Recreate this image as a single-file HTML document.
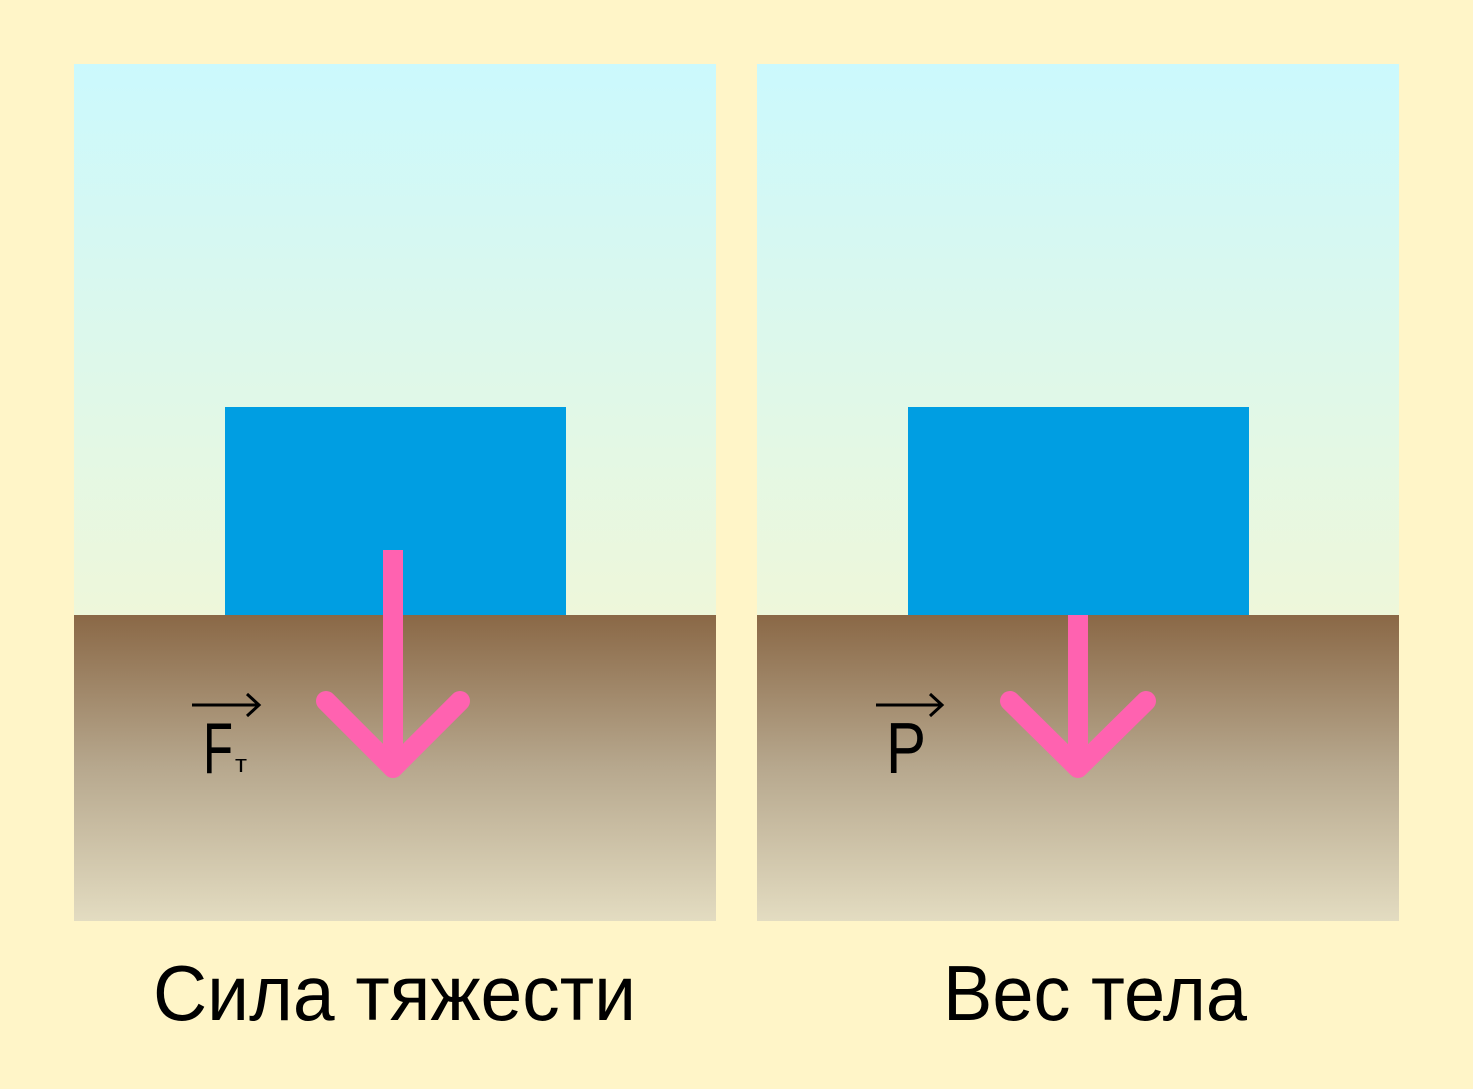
<!DOCTYPE html>
<html><head><meta charset="utf-8"><style>
html,body{margin:0;padding:0;background:#FFF5C8;}
svg{display:block}
</style></head><body>
<svg width="1473" height="1089" viewBox="0 0 1473 1089" xmlns="http://www.w3.org/2000/svg">
<defs>
<linearGradient id="sky" x1="0" y1="0" x2="0" y2="1">
<stop offset="0" stop-color="#CBF9FD"/><stop offset="1" stop-color="#EEF7DA"/>
</linearGradient>
<linearGradient id="ground" x1="0" y1="0" x2="0" y2="1">
<stop offset="0" stop-color="#8A6846"/><stop offset="0.5" stop-color="#B7A88E"/><stop offset="1" stop-color="#E3DCC1"/>
</linearGradient>
</defs>
<rect width="1473" height="1089" fill="#FFF5C8"/>
<rect x="74" y="64" width="642" height="551" fill="url(#sky)"/>
<rect x="74" y="615" width="642" height="306" fill="url(#ground)"/>
<rect x="757" y="64" width="642" height="551" fill="url(#sky)"/>
<rect x="757" y="615" width="642" height="306" fill="url(#ground)"/>
<rect x="225" y="407" width="341" height="208" fill="#009EE2"/>
<rect x="908" y="407" width="341" height="208" fill="#009EE2"/>
<g stroke="#FF62B0" stroke-width="20" fill="none" stroke-linecap="round" stroke-linejoin="round">
<line x1="393" y1="560" x2="393" y2="765" stroke-linecap="butt"/>
<polyline points="326,701 393,768 460,701"/>
<line x1="1078" y1="615" x2="1078" y2="765" stroke-linecap="butt"/>
<polyline points="1010,701 1078,768 1146,701"/>
</g>
<rect x="383" y="550" width="20" height="15" fill="#FF62B0"/>
<g stroke="#000" stroke-width="3" fill="none">
<line x1="192" y1="705" x2="258" y2="705"/><polyline points="247,694 259,705 247,716"/>
<line x1="876" y1="705" x2="941" y2="705"/><polyline points="930,694 942,705 930,716"/>
</g>
<g font-family="Liberation Sans, sans-serif" fill="#000">
<text x="203" y="773" font-size="72" textLength="30" lengthAdjust="spacingAndGlyphs">F</text>
<text x="235" y="772" font-size="24" textLength="12" lengthAdjust="spacingAndGlyphs">т</text>
<text x="886" y="773" font-size="72" textLength="40" lengthAdjust="spacingAndGlyphs">P</text>
<text x="153" y="1020" font-size="78" textLength="483" lengthAdjust="spacingAndGlyphs">Сила тяжести</text>
<text x="943" y="1020" font-size="78" textLength="304" lengthAdjust="spacingAndGlyphs">Вес тела</text>
</g>
</svg>
</body></html>
